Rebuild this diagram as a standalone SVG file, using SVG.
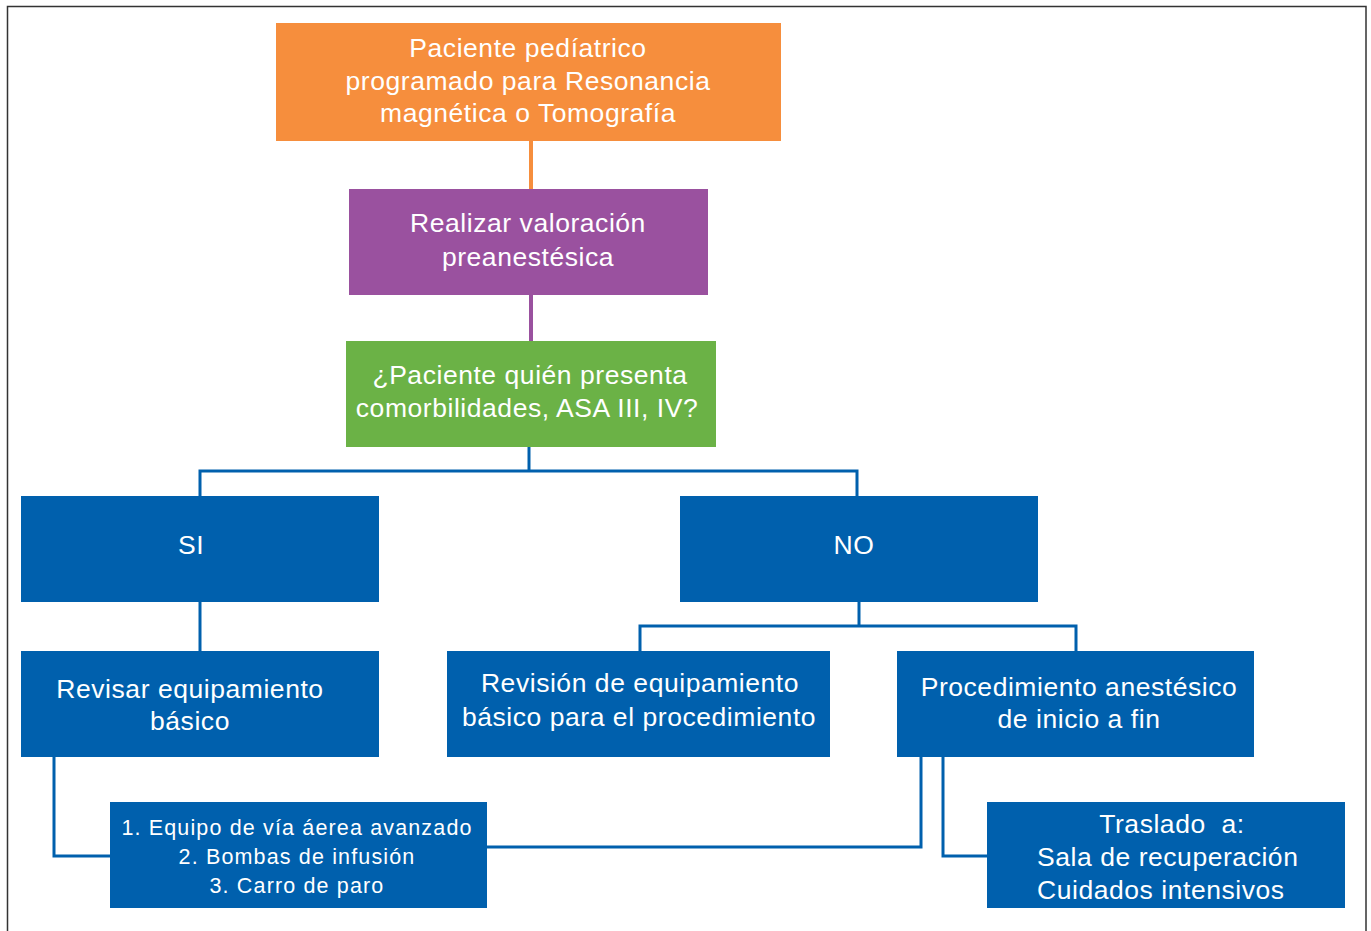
<svg xmlns="http://www.w3.org/2000/svg" width="1371" height="931" viewBox="0 0 1371 931">
<style>
.t{font-family:"Liberation Sans",Arial,sans-serif;fill:#fff;font-size:26.5px;letter-spacing:0.55px;text-anchor:middle}
.s{font-size:21.5px;letter-spacing:1.15px}
.l{text-anchor:start}
.p{white-space:pre}
.c{fill:none;stroke:#0060AD;stroke-width:3}
</style>
<rect x="7.5" y="6.5" width="1358.5" height="940" fill="#fff" stroke="#333" stroke-width="1.5"/>
<g id="connectors">
<line x1="531" y1="141" x2="531" y2="189" stroke="#F68E3D" stroke-width="4"/>
<line x1="531" y1="295" x2="531" y2="341" stroke="#9A519F" stroke-width="4"/>
<polyline class="c" points="529,447 529,471"/>
<polyline class="c" points="200,496 200,471 857,471 857,496"/>
<polyline class="c" points="200,602 200,651"/>
<polyline class="c" points="859,602 859,626"/>
<polyline class="c" points="640,651 640,626 1076,626 1076,651"/>
<polyline class="c" points="54,757 54,856 110,856"/>
<polyline class="c" points="921,757 921,847 487,847"/>
<polyline class="c" points="943,757 943,856 987,856"/>
</g>
<g id="n-start"><rect x="276" y="23" width="505" height="118" fill="#F68E3D"/>
<text class="t" x="528" y="57">Paciente pedíatrico</text>
<text class="t" x="528" y="90">programado para Resonancia</text>
<text class="t" x="528" y="122">magnética o Tomografía</text></g>
<g id="n-valoracion"><rect x="349" y="189" width="359" height="106" fill="#9A519F"/>
<text class="t" x="528" y="232">Realizar valoración</text>
<text class="t" x="528" y="266">preanestésica</text></g>
<g id="n-pregunta"><rect x="346" y="341" width="370" height="106" fill="#6BB246"/>
<text class="t" x="530" y="384">¿Paciente quién presenta</text>
<text class="t" x="527" y="417">comorbilidades, ASA III, IV?</text></g>
<g id="n-si"><rect x="21" y="496" width="358" height="106" fill="#0060AD"/>
<text class="t" x="191" y="554">SI</text></g>
<g id="n-no"><rect x="680" y="496" width="358" height="106" fill="#0060AD"/>
<text class="t" x="854" y="554">NO</text></g>
<g id="n-revisar"><rect x="21" y="651" width="358" height="106" fill="#0060AD"/>
<text class="t" x="190" y="698">Revisar equipamiento</text>
<text class="t" x="190" y="730">básico</text></g>
<g id="n-revision"><rect x="447" y="651" width="383" height="106" fill="#0060AD"/>
<text class="t" x="640" y="692">Revisión de equipamiento</text>
<text class="t" x="639" y="726">básico para el procedimiento</text></g>
<g id="n-procedimiento"><rect x="897" y="651" width="357" height="106" fill="#0060AD"/>
<text class="t" x="1079" y="696">Procedimiento anestésico</text>
<text class="t" x="1079" y="728">de inicio a fin</text></g>
<g id="n-equipo"><rect x="110" y="802" width="377" height="106" fill="#0060AD"/>
<text class="t s" x="297" y="835">1. Equipo de vía áerea avanzado</text>
<text class="t s" x="297" y="864">2. Bombas de infusión</text>
<text class="t s" x="297" y="893">3. Carro de paro</text></g>
<g id="n-traslado"><rect x="987" y="802" width="358" height="106" fill="#0060AD"/>
<text class="t p" x="1172" y="833">Traslado  a:</text>
<text class="t l" x="1037" y="866">Sala de recuperación</text>
<text class="t l" x="1037" y="899">Cuidados intensivos</text></g>
</svg>
